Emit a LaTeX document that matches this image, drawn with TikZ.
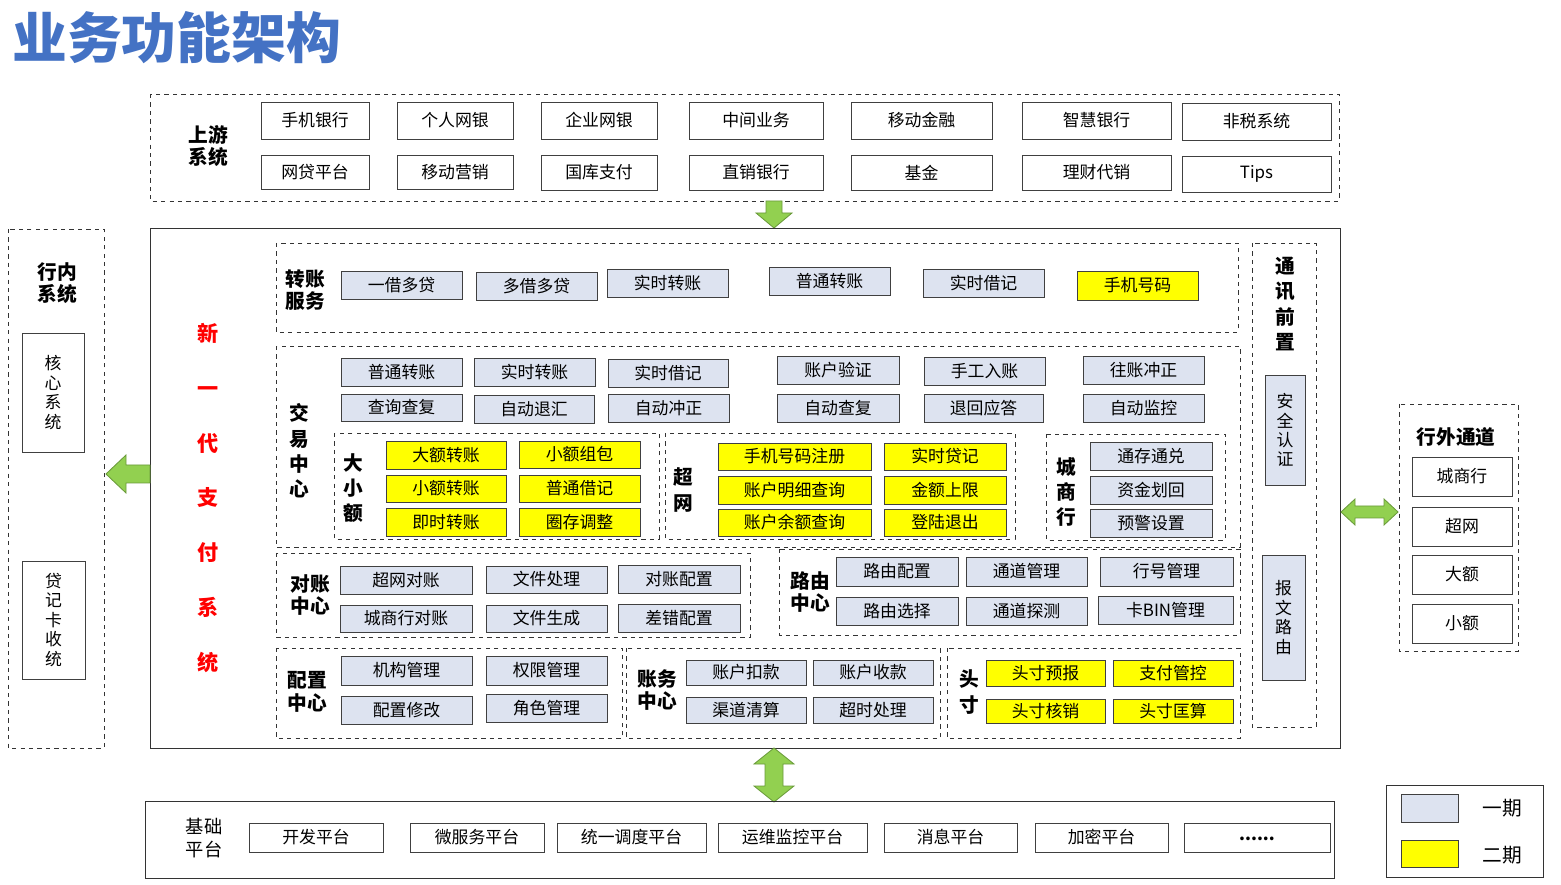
\documentclass[tikz,border=0pt]{standalone}
\usepackage{fontspec}
\setmainfont{Noto Sans CJK SC}
\usetikzlibrary{positioning}
\definecolor{phaseone}{HTML}{DDE3F0}
\definecolor{phasetwo}{HTML}{FFFF00}
\definecolor{arrowgreen}{HTML}{92D050}
\definecolor{arrowedge}{HTML}{6A9A3A}
\definecolor{titleblue}{HTML}{4472C4}
\tikzset{
  box/.style={draw=black!75, fill=white, inner sep=0pt, font=\fontsize{12}{14}\selectfont},
  oldbox/.style={box, fill=phaseone},
  newbox/.style={box, fill=phasetwo},
  grp/.style={draw=black!80, dashed, thin},
  lbl/.style={font=\fontsize{14}{16}\selectfont\bfseries, align=center, inner sep=0pt},
  vlbl/.style={lbl, font=\fontsize{14}{18}\selectfont\bfseries},
  blockarrow/.style={draw=arrowedge, fill=arrowgreen, line width=0.6pt}
}
% box from pixel corners: [style]{name}{x1}{y1}{x2}{y2}{text}
\newcommand\bx[7][box]{\node[#1, minimum width={(#5-#3)*0.025cm}, minimum height={(#6-#4)*0.025cm}] (#2) at ({(#3+#5)/2},{(#4+#6)/2}) {#7};}
\begin{document}
\begin{tikzpicture}[x=0.025cm, y=-0.025cm]
\useasboundingbox (0,0) rectangle (1561,885);
\node[anchor=west, text=titleblue, font=\fontsize{39}{42}\selectfont\bfseries, inner sep=0pt] (title) at (12,38) {业务功能架构};

% upstream systems
\draw[grp] (150,94) rectangle (1339,201);
\node[lbl] (up) at (208,146) {上游\\系统};
\bx{u1}{261}{102}{369}{139}{手机银行}
\bx{u2}{397}{102}{513}{139}{个人网银}
\bx{u3}{541}{102}{657}{139}{企业网银}
\bx{u4}{689}{102}{823}{139}{中间业务}
\bx{u5}{851}{102}{992}{139}{移动金融}
\bx{u6}{1022}{102}{1171}{139}{智慧银行}
\bx{u7}{1182}{103}{1331}{140}{非税系统}
\bx{u8}{261}{155}{369}{189}{网贷平台}
\bx{u9}{397}{155}{513}{189}{移动营销}
\bx{u10}{541}{155}{657}{190}{国库支付}
\bx{u11}{689}{155}{823}{190}{直销银行}
\bx{u12}{851}{155}{992}{190}{基金}
\bx{u13}{1022}{155}{1171}{190}{理财代销}
\bx{u14}{1182}{156}{1331}{192}{Tips}
\draw[blockarrow] (766,201) -- (782,201) -- (782,213) -- (792,213) -- (774,228) -- (756,213) -- (766,213) -- cycle;

% main system
\draw[black!80] (150,228) rectangle (1340,748);
\node[lbl, text=red, font=\fontsize{15}{15}\selectfont\bfseries] (nm) at (208,498) {新\\[24pt]一\\[24pt]代\\[24pt]支\\[24pt]付\\[24pt]系\\[24pt]统};

% in-house systems
\draw[grp] (8,229) rectangle (104,748);
\node[lbl] (inh) at (57,283) {行内\\系统};
\bx{core}{22}{333}{84}{452}{\shortstack{核\\心\\系\\统}}
\bx{card}{22}{561}{85}{679}{\shortstack{贷\\记\\卡\\收\\统}}
\draw[blockarrow] (106,474) -- (126,455) -- (126,465) -- (150,465) -- (150,483) -- (126,483) -- (126,493) -- cycle;

% transfer service
\draw[grp] (276,243) rectangle (1238,332);
\node[lbl] (zz) at (305,290) {转账\\服务};
\bx[oldbox]{t1}{341}{271}{462}{299}{一借多贷}
\bx[oldbox]{t2}{476}{272}{597}{300}{多借多贷}
\bx[oldbox]{t3}{607}{269}{728}{297}{实时转账}
\bx[oldbox]{t4}{769}{267}{890}{295}{普通转账}
\bx[oldbox]{t5}{923}{269}{1044}{297}{实时借记}
\bx[newbox]{t6}{1077}{271}{1198}{300}{手机号码}

% trade center
\draw[grp] (276,346) rectangle (1240,547);
\node[vlbl] (jy) at (299,451) {交\\易\\中\\心};
\bx[oldbox]{j1}{341}{358}{462}{386}{普通转账}
\bx[oldbox]{j2}{474}{358}{595}{386}{实时转账}
\bx[oldbox]{j3}{608}{359}{728}{387}{实时借记}
\bx[oldbox]{j4}{777}{356}{899}{384}{账户验证}
\bx[oldbox]{j5}{924}{357}{1045}{385}{手工入账}
\bx[oldbox]{j6}{1083}{356}{1204}{384}{往账冲正}
\bx[oldbox]{j7}{341}{394}{462}{421}{查询查复}
\bx[oldbox]{j8}{474}{395}{594}{423}{自动退汇}
\bx[oldbox]{j9}{608}{394}{729}{422}{自动冲正}
\bx[oldbox]{j10}{777}{394}{899}{422}{自动查复}
\bx[oldbox]{j11}{924}{394}{1043}{422}{退回应答}
\bx[oldbox]{j12}{1083}{394}{1204}{422}{自动监控}

\draw[grp] (334,433) rectangle (659,539);
\node[vlbl] (dx) at (353,488) {大\\小\\额};
\bx[newbox]{d1}{386}{441}{506}{469}{大额转账}
\bx[newbox]{d2}{519}{441}{640}{468}{小额组包}
\bx[newbox]{d3}{386}{475}{506}{502}{小额转账}
\bx[newbox]{d4}{519}{475}{640}{502}{普通借记}
\bx[newbox]{d5}{386}{508}{506}{536}{即时转账}
\bx[newbox]{d6}{519}{508}{640}{536}{圈存调整}

\draw[grp] (665,433) rectangle (1015,539);
\node[vlbl] (cw) at (683,490) {超\\网};
\bx[newbox]{c1}{718}{443}{871}{470}{手机号码注册}
\bx[newbox]{c2}{884}{443}{1006}{470}{实时贷记}
\bx[newbox]{c3}{718}{476}{871}{504}{账户明细查询}
\bx[newbox]{c4}{884}{476}{1006}{504}{金额上限}
\bx[newbox]{c5}{718}{509}{871}{536}{账户余额查询}
\bx[newbox]{c6}{884}{509}{1006}{536}{登陆退出}

\draw[grp] (1046,434) rectangle (1225,540);
\node[vlbl] (csh) at (1066,492) {城\\商\\行};
\bx[oldbox]{s1}{1090}{442}{1212}{470}{通存通兑}
\bx[oldbox]{s2}{1090}{476}{1212}{504}{资金划回}
\bx[oldbox]{s3}{1090}{509}{1212}{537}{预警设置}

% reconciliation / routing
\draw[grp] (276,553) rectangle (750,637);
\node[lbl] (dz) at (310,595) {对账\\中心};
\bx[oldbox]{r1}{340}{566}{472}{594}{超网对账}
\bx[oldbox]{r2}{486}{566}{607}{593}{文件处理}
\bx[oldbox]{r3}{618}{565}{740}{593}{对账配置}
\bx[oldbox]{r4}{340}{605}{472}{632}{城商行对账}
\bx[oldbox]{r5}{486}{605}{607}{632}{文件生成}
\bx[oldbox]{r6}{618}{604}{740}{632}{差错配置}

\draw[grp] (779,549) rectangle (1240,635);
\node[lbl] (ly) at (810,592) {路由\\中心};
\bx[oldbox]{l1}{836}{557}{958}{586}{路由配置}
\bx[oldbox]{l2}{966}{557}{1087}{586}{通道管理}
\bx[oldbox]{l3}{1100}{557}{1233}{586}{行号管理}
\bx[oldbox]{l4}{836}{597}{958}{625}{路由选择}
\bx[oldbox]{l5}{966}{597}{1087}{625}{通道探测}
\bx[oldbox]{l6}{1098}{596}{1233}{624}{卡BIN管理}

% config / accounting / position
\draw[grp] (276,648) rectangle (622,738);
\node[lbl] (pz) at (307,692) {配置\\中心};
\bx[oldbox]{p1}{341}{656}{472}{685}{机构管理}
\bx[oldbox]{p2}{486}{656}{607}{685}{权限管理}
\bx[oldbox]{p3}{341}{696}{472}{724}{配置修改}
\bx[oldbox]{p4}{486}{694}{607}{722}{角色管理}

\draw[grp] (626,648) rectangle (940,738);
\node[lbl] (zw) at (657,690) {账务\\中心};
\bx[oldbox]{a1}{686}{660}{806}{685}{账户扣款}
\bx[oldbox]{a2}{813}{660}{933}{685}{账户收款}
\bx[oldbox]{a3}{686}{697}{806}{723}{渠道清算}
\bx[oldbox]{a4}{813}{697}{933}{723}{超时处理}

\draw[grp] (947,648) rectangle (1240,738);
\node[vlbl] (tc) at (969,692) {头\\寸};
\bx[newbox]{h1}{986}{660}{1105}{686}{头寸预报}
\bx[newbox]{h2}{1113}{660}{1233}{686}{支付管控}
\bx[newbox]{h3}{986}{699}{1105}{723}{头寸核销}
\bx[newbox]{h4}{1113}{699}{1233}{723}{头寸匡算}

% front-end communication
\draw[grp] (1252,243) rectangle (1316,727);
\node[vlbl] (tx) at (1285,304) {通\\讯\\前\\置};
\bx[oldbox]{q1}{1265}{375}{1305}{485}{\shortstack{安\\全\\认\\证}}
\bx[oldbox]{q2}{1262}{555}{1305}{680}{\shortstack{报\\文\\路\\由}}

% external channels
\draw[blockarrow] (1341,512) -- (1355,499) -- (1355,506) -- (1384,506) -- (1384,499) -- (1398,512) -- (1384,525) -- (1384,518) -- (1355,518) -- (1355,525) -- cycle;
\draw[grp] (1399,404) rectangle (1518,651);
\node[lbl] (hw) at (1456,437) {行外通道};
\bx{w1}{1412}{457}{1512}{496}{城商行}
\bx{w2}{1412}{507}{1512}{546}{超网}
\bx{w3}{1412}{555}{1512}{594}{大额}
\bx{w4}{1412}{604}{1512}{643}{小额}

% base platform
\draw[blockarrow] (774,748) -- (794,764) -- (783,764) -- (783,786) -- (794,786) -- (774,802) -- (754,786) -- (765,786) -- (765,764) -- (754,764) -- cycle;
\draw[black!80] (145,801) rectangle (1334,878);
\node[align=center, inner sep=0pt, font=\fontsize{13}{16}\selectfont] (jc) at (204,838) {基础\\平台};
\bx{b1}{249}{823}{383}{852}{开发平台}
\bx{b2}{410}{823}{544}{852}{微服务平台}
\bx{b3}{557}{823}{706}{852}{统一调度平台}
\bx{b4}{718}{823}{867}{852}{运维监控平台}
\bx{b5}{884}{823}{1017}{852}{消息平台}
\bx{b6}{1035}{823}{1168}{852}{加密平台}
\bx{b7}{1184}{823}{1330}{852}{\raisebox{-5pt}{\bfseries ......}}

% legend
\draw[black!80] (1386,785) rectangle (1543,877);
\bx[oldbox]{g1}{1401}{794}{1458}{822}{}
\bx[newbox]{g2}{1401}{840}{1458}{867}{}
\node[font=\fontsize{14}{16}\selectfont] (g1t) at (1502,808) {一期};
\node[font=\fontsize{14}{16}\selectfont] (g2t) at (1502,855) {二期};
\end{tikzpicture}
\end{document}
